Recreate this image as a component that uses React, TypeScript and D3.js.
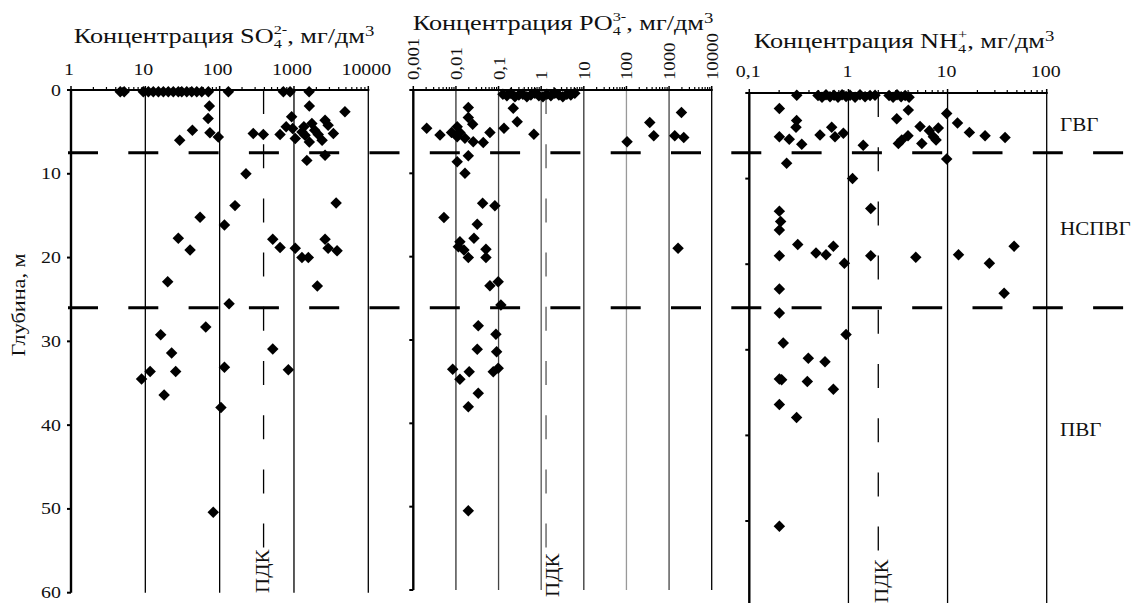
import React from 'react';
import * as d3 from 'd3';

const FONT = '"Liberation Serif", "Times New Roman", Times, serif';

// ---------- SO4 panel data (concentration mg/dm3, depth m) ----------
const so4Conc = [
  4.6, 5.2, 9.4, 11, 12.8, 15, 17.5, 20.4, 23.8, 27.8, 30.9, 36.1, 42.1, 49.2, 57.4, 70.5, 131, 720, 886, 1600,
  72.7, 70, 74, 96, 43, 29, 283, 387, 650, 785, 930, 960, 1040, 1280, 1360, 1410, 1610, 1610, 1740, 1900,
  2120, 2390, 2620, 2880, 2620, 1490, 3390, 4850, 226,
  161, 3690, 54.5, 116, 27.8, 40, 518, 650, 1040, 1280, 1560, 2620, 2880, 3800, 2060, 20,
  134, 65, 16.1, 22.6, 25.6, 11.6, 8.9, 17.9, 116, 104, 518, 840, 82,
];
const so4Depth = [
  0.2, 0.2, 0.2, 0.2, 0.2, 0.2, 0.2, 0.2, 0.2, 0.2, 0.2, 0.2, 0.2, 0.2, 0.2, 0.2, 0.2, 0.2, 0.2, 0.2,
  1.9, 3.4, 5.1, 5.6, 4.8, 6.0, 5.2, 5.3, 5.3, 4.4, 3.2, 4.6, 5.8, 5.0, 4.4, 5.4, 1.9, 6.2, 4.0, 4.8,
  5.3, 6.0, 3.6, 4.2, 7.8, 8.4, 5.2, 2.6, 10.0,
  13.8, 13.5, 15.2, 16.1, 17.7, 19.1, 17.8, 18.8, 18.9, 20.0, 20.0, 17.8, 18.9, 19.2, 23.4, 22.9,
  25.5, 28.3, 29.2, 31.4, 33.6, 33.6, 34.5, 36.4, 33.1, 37.9, 30.9, 33.4, 50.4,
];

// ---------- PO4 panel data ----------
const po4Conc = [
  0.1265, 0.157, 0.195, 0.242, 0.3, 0.372, 0.462, 0.573, 0.711, 0.883, 1.1, 1.36, 1.69, 2.09, 2.6, 3.22, 4.0, 4.96, 6.15,
  0.221, 0.274, 0.134, 0.674, 0.0195, 0.0195, 0.0247, 0.00206, 0.00423, 0.0079, 0.0107, 0.0124, 0.0107, 0.0163,
  0.0255, 0.0437, 0.0627, 0.0107, 0.0195, 0.0163, 103.5, 352, 437, 1950, 1360, 2210,
  0.0423, 0.082, 0.00524, 0.0316, 0.0265, 0.0124, 0.0114, 0.0154, 0.0195, 0.0506, 0.0506, 0.0627, 0.098,
  0.1135, 0.0334, 0.0867, 0.0316, 0.09, 0.0084, 0.0205, 0.075, 0.098, 0.0124, 0.0334, 0.0195, 1625, 0.0195,
];
const po4Depth = [
  0.5, 0.7, 0.4, 0.8, 0.6, 0.5, 0.8, 0.6, 0.4, 0.7, 0.8, 0.5, 0.7, 0.4, 0.6, 0.8, 0.5, 0.6, 0.4,
  2.2, 3.8, 4.6, 5.3, 2.1, 3.3, 4.1, 4.6, 5.4, 5.1, 4.4, 5.1, 5.6, 5.8,
  6.2, 6.3, 5.1, 8.6, 7.9, 10.0, 6.2, 3.9, 5.5, 2.7, 5.5, 5.7,
  13.6, 13.9, 15.3, 16.1, 17.8, 18.2, 18.8, 19.2, 20.1, 19.1, 20.1, 23.5, 23.0,
  25.8, 28.3, 29.3, 31.1, 31.4, 33.5, 33.8, 33.8, 33.4, 34.7, 36.4, 38.0, 19.0, 50.5,
];

// ---------- NH4 panel data ----------
const nh4Conc = [
  0.301, 0.493, 0.541, 0.594, 0.652, 0.716, 0.785, 0.862, 0.946, 1.038, 1.166, 1.309, 1.471, 1.652, 1.855,
  2.57, 2.82, 3.09, 3.4, 3.73, 4.09,
  0.201, 0.3, 0.296, 0.201, 0.253, 0.338, 0.238, 0.517, 0.678, 0.732, 0.889, 1.41, 1.1, 3.07, 4.02, 5.28,
  6.55, 8.07, 3.19, 3.45, 3.99, 5.5, 7.19, 7.66, 9.8, 12.6, 16.6, 23.9, 38, 9.8,
  1.68, 0.201, 0.207, 0.201, 0.308, 0.201, 0.471, 0.594, 0.705, 0.91, 1.68, 4.78, 12.9, 26.4, 46.9, 37.2,
  0.201, 0.201, 0.946, 0.22, 0.394, 0.58, 0.201, 0.212, 0.385, 0.705, 0.201, 0.3, 0.201,
];
const nh4Depth = [
  0.25, 0.3, 0.5, 0.2, 0.45, 0.25, 0.5, 0.2, 0.4, 0.25, 0.5, 0.2, 0.45, 0.3, 0.25,
  0.3, 0.5, 0.2, 0.45, 0.3, 0.5,
  1.8, 3.2, 4.0, 5.1, 5.4, 6.0, 8.2, 4.9, 4.0, 5.1, 4.7, 6.1, 10.0, 3.0, 2.0, 3.9,
  4.4, 4.1, 5.9, 5.5, 5.0, 5.9, 5.1, 5.5, 2.4, 3.5, 4.6, 5.0, 5.2, 7.7,
  13.5, 13.8, 15.0, 16.0, 17.7, 19.0, 18.7, 18.9, 17.9, 19.9, 19.0, 19.2, 18.9, 19.9, 17.9, 23.4,
  22.9, 25.7, 28.2, 29.2, 31.0, 31.4, 33.4, 33.5, 33.7, 34.6, 36.4, 37.9, 50.6,
];

// ---------- axes / annotations ----------
const depthTicks = [0, 10, 20, 30, 40, 50, 60];
const so4TickLabels = ['1', '10', '100', '1000', '10000'];
const so4TickValues = [1, 10, 100, 1000, 10000];
const po4TickLabels = ['0,001', '0,01', '0,1', '1', '10', '100', '1000', '10000'];
const po4TickValues = [0.001, 0.01, 0.1, 1, 10, 100, 1000, 10000];
const nh4TickLabels = ['0,1', '1', '10', '100'];
const nh4TickValues = [0.1, 1, 10, 100];
const pdkValues = [390, 1.3, 2];
const zoneBoundaries = [7.5, 26];
const zoneNames = ['ГВГ', 'НСПВГ', 'ПВГ'];
const zoneLabelDepths = [4.9, 17.3, 41.3];

const W = 1136;
const H = 603;

const x1 = d3.scaleLog().domain([1, 10000]).range([71, 368.3]);
const y1 = d3.scaleLinear().domain([0, 60]).range([90, 592.7]);
const x2 = d3.scaleLog().domain([0.001, 10000]).range([413.3, 711.7]);
const y2 = d3.scaleLinear().domain([0, 60]).range([90, 590]);
const x3 = d3.scaleLog().domain([0.1, 100]).range([749.3, 1046.7]);
const y3 = d3.scaleLinear().domain([0, 60]).range([93, 606.6]);

const diamond = d3.symbol(d3.symbolSquare, 66)() as string;

function minorTicks(dom: number[]) {
  const out: number[] = [];
  const lo = Math.round(Math.log10(dom[0]));
  const hi = Math.round(Math.log10(dom[1]));
  for (let e = lo; e < hi; e++) {
    for (let k = 2; k <= 9; k++) out.push(k * Math.pow(10, e));
  }
  return out;
}

type PanelProps = {
  x: d3.ScaleLogarithmic<number, number>;
  y: d3.ScaleLinear<number, number>;
  gridColors: string[];
  yBottom: number;
  pdk: number;
  pdkColor: string;
  pdkEnd: number;
};

function Panel({ x, y, gridColors, yBottom, pdk, pdkColor, pdkEnd }: PanelProps) {
  const dom = x.domain();
  const majors = x.ticks().filter((v) => Math.abs(Math.log10(v) - Math.round(Math.log10(v))) < 1e-9);
  const top = y(0);
  const left = x(dom[0]);
  const right = x(dom[1]);
  return (
    <g>
      {majors.slice(1).map((v, i) => (
        <line key={'g' + i} x1={x(v)} x2={x(v)} y1={top} y2={yBottom} stroke={gridColors[i] || '#000'} strokeWidth={1.3} />
      ))}
      {minorTicks(dom).map((v, i) => (
        <line key={'m' + i} x1={x(v)} x2={x(v)} y1={top} y2={top - 3} stroke="#000" strokeWidth={1.2} />
      ))}
      {majors.map((v, i) => (
        <line key={'M' + i} x1={x(v)} x2={x(v)} y1={top} y2={top - 4} stroke="#000" strokeWidth={1.5} />
      ))}
      <line x1={x(pdk)} x2={x(pdk)} y1={top} y2={pdkEnd} stroke={pdkColor} strokeWidth={1.3} strokeDasharray="24 30.2" />
      <line x1={left} x2={right + 1} y1={top} y2={top} stroke="#000" strokeWidth={2.2} />
      <line x1={left} x2={left} y1={top - 1} y2={yBottom} stroke="#000" strokeWidth={2.4} />
      {depthTicks.map((d) => (
        <line key={'t' + d} x1={left - 4} x2={left} y1={y(d)} y2={y(d)} stroke="#000" strokeWidth={2} />
      ))}
    </g>
  );
}

function Marks({ x, y, conc, depth }: { x: any; y: any; conc: number[]; depth: number[] }) {
  return (
    <g>
      {conc.map((c, i) => (
        <path key={i} d={diamond} transform={`translate(${x(c)},${y(depth[i])}) rotate(45)`} fill="#000" />
      ))}
    </g>
  );
}

const SX = 1.17;

function HText({ x, y, size, anchor = 'start', children }: any) {
  return (
    <text transform={`translate(${x},${y}) scale(${SX},1)`} fontSize={size} textAnchor={anchor} fontFamily={FONT} fill="#111">
      {children}
    </text>
  );
}

function VText({ x, y, size, anchor = 'start', children }: any) {
  return (
    <text transform={`translate(${x},${y}) rotate(-90) scale(${SX},1)`} fontSize={size} textAnchor={anchor} fontFamily={FONT} fill="#111">
      {children}
    </text>
  );
}

function Title({ x, y, ion, sub, sup }: { x: number; y: number; ion: string; sub: string; sup: string }) {
  return (
    <text transform={`translate(${x},${y}) scale(1.25,1)`} fontSize={21} textAnchor="middle" fontFamily={FONT} fill="#111">
      {'Концентрация ' + ion}
      <tspan dy={5} fontSize={13}>{sub}</tspan>
      <tspan dx={-6.5} dy={-14} fontSize={13}>{sup}</tspan>
      <tspan dy={9} fontSize={21}>, мг/дм</tspan>
      <tspan dy={-7} fontSize={15}>3</tspan>
    </text>
  );
}

export default function App() {
  return (
    <svg width={W} height={H} style={{ position: 'absolute', left: 0, top: 0, background: '#fff' }}>
      <rect x={0} y={0} width={W} height={H} fill="#fff" />

      <Panel x={x1} y={y1} gridColors={['#000', '#000', '#000', '#000']} yBottom={y1(60)} pdk={pdkValues[0]} pdkColor="#000" pdkEnd={548} />
      <Panel x={x2} y={y2} gridColors={['#333', '#444', '#555', '#333', '#999', '#444', '#000']} yBottom={y2(60)} pdk={pdkValues[1]} pdkColor="#555" pdkEnd={548} />
      <Panel x={x3} y={y3} gridColors={['#000', '#000', '#000']} yBottom={H} pdk={pdkValues[2]} pdkColor="#000" pdkEnd={552} />

      {zoneBoundaries.map((d) => (
        <line key={d} x1={68} x2={1124} y1={y1(d)} y2={y1(d)} stroke="#000" strokeWidth={3} strokeDasharray="30 30.3" />
      ))}

      <Marks x={x1} y={y1} conc={so4Conc} depth={so4Depth} />
      <Marks x={x2} y={y2} conc={po4Conc} depth={po4Depth} />
      <Marks x={x3} y={y3} conc={nh4Conc} depth={nh4Depth} />

      {depthTicks.map((d) => (
        <HText key={d} x={61} y={y1(d) + 5.5} size={17} anchor="end">{String(d)}</HText>
      ))}
      <VText x={25} y={305} size={19} anchor="middle">Глубина, м</VText>

      {so4TickValues.map((v, i) => (
        <HText key={v} x={x1(v) - 2} y={75} size={17} anchor="middle">{so4TickLabels[i]}</HText>
      ))}
      {po4TickValues.map((v, i) => (
        <VText key={v} x={x2(v) + 6} y={80} size={16} anchor="start">{po4TickLabels[i]}</VText>
      ))}
      {nh4TickValues.map((v, i) => (
        <HText key={v} x={x3(v) - 1} y={77} size={17} anchor="middle">{nh4TickLabels[i]}</HText>
      ))}

      <Title x={224} y={43} ion="SO" sub="4" sup="2-" />
      <Title x={563} y={30} ion="PO" sub="4" sup="3-" />
      <Title x={904} y={48} ion="NH" sub="4" sup="+" />

      <VText x={x1(pdkValues[0]) + 5} y={593} size={18}>ПДК</VText>
      <VText x={x2(pdkValues[1]) + 13} y={597} size={18}>ПДК</VText>
      <VText x={x3(pdkValues[2]) + 10} y={603} size={18}>ПДК</VText>

      {zoneNames.map((n, i) => (
        <HText key={n} x={1060} y={y1(zoneLabelDepths[i])} size={18}>{n}</HText>
      ))}
    </svg>
  );
}
